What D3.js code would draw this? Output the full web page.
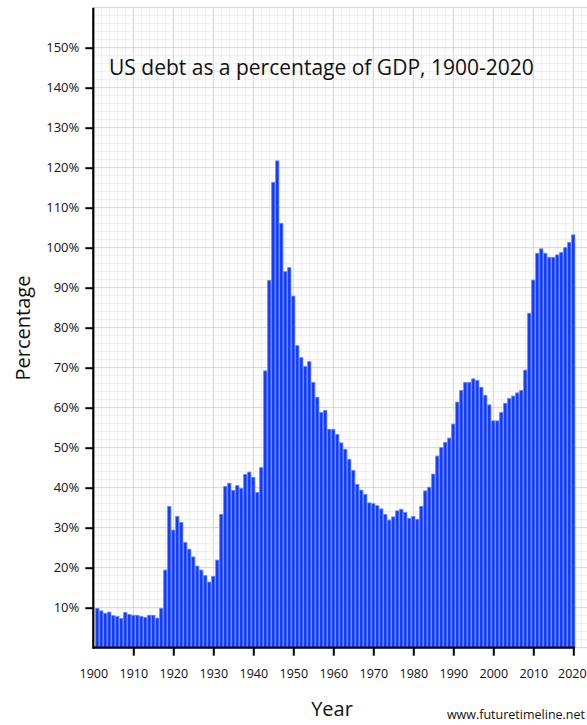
<!DOCTYPE html>
<html>
<head>
<meta charset="utf-8">
<script src="https://cdn.jsdelivr.net/npm/d3@7"></script>
<style>
  body { margin: 0; background: #fff; }
  svg { display: block; font-family: "Open Sans", "Noto Sans", sans-serif; }
</style>
</head>
<body>
<div id="chart"></div>
<script>
const years = d3.range(1901, 2021);
const debtPct = [
    9.8, 9.2, 8.6, 8.9, 8.0, 7.8, 7.3, 8.8, 8.3, 8.1,
    8.1, 7.8, 7.6, 8.1, 8.1, 7.4, 9.8, 19.4, 35.3, 29.4,
    32.8, 31.3, 26.3, 24.6, 22.7, 20.4, 19.4, 18.0, 16.4, 17.8,
    21.9, 33.3, 40.3, 41.1, 39.3, 40.5, 39.8, 43.3, 43.9, 42.6,
    38.8, 45.0, 69.2, 91.8, 116.3, 121.7, 106.1, 94.0, 95.0, 87.9,
    75.5, 72.5, 70.3, 71.5, 66.3, 62.6, 58.8, 59.3, 54.6, 54.6,
    53.3, 51.2, 49.6, 47.1, 44.3, 40.8, 39.4, 38.3, 36.2, 36.0,
    35.5, 34.7, 33.3, 31.9, 32.7, 34.2, 34.6, 33.8, 32.3, 32.8,
    32.1, 35.3, 39.2, 40.1, 43.4, 47.9, 50.0, 51.3, 52.4, 55.9,
    61.4, 64.3, 66.3, 66.3, 67.2, 66.8, 65.1, 63.1, 60.7, 56.7,
    56.7, 58.8, 61.1, 62.3, 62.9, 63.7, 64.3, 69.4, 83.6, 91.9,
    98.6, 99.7, 98.6, 97.6, 97.6, 98.2, 98.8, 100.0, 101.3, 103.2
];
const xTicks = d3.range(1900, 2021, 10);
const yTicks = d3.range(10, 151, 10);

const width = 587, height = 725;
const margin = { left: 93.3, top: 7.7, bottom: 77.3 };

const x = d3.scaleLinear().domain([1900, 2020]).range([margin.left, margin.left + 480]);
const y = d3.scaleLinear().domain([0, 160]).range([height - margin.bottom, margin.top]);

const data = years.map((yr, i) => ({ year: yr, value: debtPct[i] }));

const svg = d3.select("#chart").append("svg")
    .attr("width", width)
    .attr("height", height);

// grid, minor lines every 2 units, major every 10
const gx = d3.range(1900, x.invert(width) + 0.01, 2);
const gy = d3.range(0, 160.01, 2);
const grid = svg.append("g");
grid.selectAll(".vminor").data(gx).join("line")
    .attr("x1", d => x(d)).attr("x2", d => x(d))
    .attr("y1", y(160)).attr("y2", y(0))
    .attr("stroke", d => d % 10 === 0 ? "#d2d2d2" : "#ececec")
    .attr("stroke-width", 1);
grid.selectAll(".hminor").data(gy).join("line")
    .attr("x1", x(1900)).attr("x2", width)
    .attr("y1", d => y(d)).attr("y2", d => y(d))
    .attr("stroke", d => d % 10 === 0 ? "#d2d2d2" : "#ececec")
    .attr("stroke-width", 1);

// bars
svg.append("g").selectAll("rect").data(data).join("rect")
    .attr("x", d => x(d.year) - 1.6)
    .attr("width", 3.2)
    .attr("y", d => y(d.value))
    .attr("height", d => y(0) - y(d.value))
    .attr("fill", "#1238ff")
    .attr("stroke", "#5e80ff")
    .attr("stroke-width", 0.8);

// axes
const xAxis = d3.axisBottom(x)
    .tickValues(xTicks)
    .tickSize(8)
    .tickPadding(13)
    .tickFormat(d3.format("d"));
const yAxis = d3.axisLeft(y)
    .tickValues(yTicks)
    .tickSize(8)
    .tickPadding(6)
    .tickFormat(d => d + "%");

const gX = svg.append("g")
    .attr("transform", `translate(0,${y(0)})`)
    .call(xAxis)
    .attr("font-family", null)
    .attr("font-size", null);
gX.select(".domain").attr("d", `M${x(1900)},0H${x(2020) + 1.5}`).attr("stroke-width", 2.2);
gX.selectAll(".tick line").attr("stroke-width", 2);
gX.selectAll(".tick").filter(d => d === 1900).select("line").remove();
gX.selectAll("text").style("font-size", "12.5px").attr("fill", "#111");
// keep the last label inside the page edge
gX.selectAll(".tick").filter(d => d === 2020).select("text").attr("dx", -1.5);

const gY = svg.append("g")
    .attr("transform", `translate(${x(1900)},0)`)
    .call(yAxis)
    .attr("font-family", null)
    .attr("font-size", null);
gY.select(".domain").attr("d", `M0,${y(160)}V${y(0) + 1}`).attr("stroke-width", 2.2);
gY.selectAll(".tick line").attr("stroke-width", 2);
gY.selectAll("text").style("font-size", "13px").attr("fill", "#111");

// title and labels
svg.append("text")
    .attr("x", 109)
    .attr("y", 75)
    .style("font-size", "21px")
    .attr("fill", "#111")
    .text("US debt as a percentage of GDP, 1900-2020");

svg.append("text")
    .attr("transform", `translate(30,${328}) rotate(-90)`)
    .attr("text-anchor", "middle")
    .style("font-size", "20px")
    .attr("fill", "#111")
    .text("Percentage");

svg.append("text")
    .attr("x", 332)
    .attr("y", 716)
    .attr("text-anchor", "middle")
    .style("font-size", "20px")
    .attr("fill", "#111")
    .text("Year");

svg.append("text")
    .attr("x", 585)
    .attr("y", 719)
    .attr("text-anchor", "end")
    .style("font-size", "12.5px")
    .attr("fill", "#111")
    .text("www.futuretimeline.net");
</script>
</body>
</html>
